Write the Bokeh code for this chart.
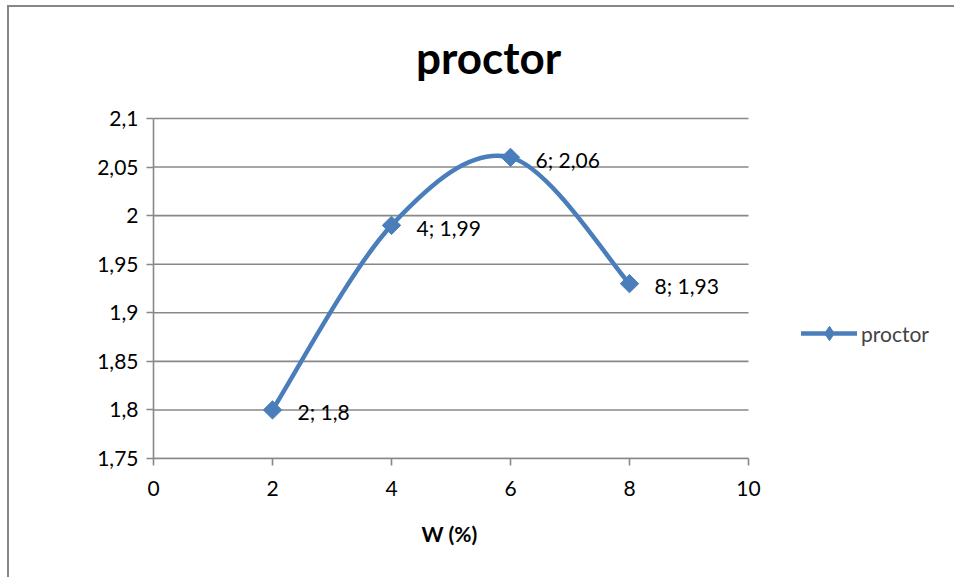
import numpy as np
from bokeh.plotting import figure
from bokeh.models import (Range1d, Legend, LegendItem, FixedTicker, ColumnDataSource,
                          Title, Label)
from bokeh.core.properties import value
from bokeh.embed import file_html
from bokeh.resources import INLINE

# Proctor test: water content (%) vs. dry density
w_pct = [2, 4, 6, 8]
density = [1.8, 1.99, 2.06, 1.93]
series_name = "proctor"
chart_title = "proctor"
x_title = "W (%)"
x_ticks = [0, 2, 4, 6, 8, 10]
y_ticks = [1.75, 1.8, 1.85, 1.9, 1.95, 2.0, 2.05, 2.1]
y_tick_labels = ["1,75", "1,8", "1,85", "1,9", "1,95", "2", "2,05", "2,1"]

FONT = "Lato"
BLUE = "#4a7ebb"
GREY = "#888888"

# page geometry (pixels)
PAGE_W, PAGE_H = 956, 579
OX, OY = 9, 7                     # chart-area border drawn around the canvas
PLOT_L, PLOT_R = 153, 748         # left/right ends of the x axis
PLOT_T, PLOT_B = 118, 458         # top/bottom of the value axis
TITLE_CX, TITLE_CY = 488, 56      # centre of the chart title

# the frame runs on to the right and top edges of the canvas so the legend and
# title can sit in it beside/above the axes
x_lo, x_hi = x_ticks[0], x_ticks[-1]
y_lo, y_hi = y_ticks[0], y_ticks[-1]
px_x = (x_hi - x_lo) / (PLOT_R - PLOT_L)      # data units per pixel
px_y = (y_hi - y_lo) / (PLOT_B - PLOT_T)
x_end = x_lo + px_x * (PAGE_W - PLOT_L)
y_end = y_hi + px_y * (PLOT_T - OY)


def fmt(v):
    s = ("%g" % v)
    return s.replace(".", ",")


point_labels = ["%s; %s" % (fmt(x), fmt(y)) for x, y in zip(w_pct, density)]

p = figure(width=PAGE_W - OX, height=PAGE_H - OY, output_backend="svg",
           toolbar_location=None,
           x_range=Range1d(x_lo, x_end), y_range=Range1d(y_lo, y_end),
           min_border_left=PLOT_L - OX, min_border_right=0,
           min_border_top=0, min_border_bottom=PAGE_H - PLOT_B)
p.outline_line_color = None
p.background_fill_color = "white"
p.border_fill_color = "white"
p.styles = {"border-top": "2px solid #878787", "border-left": "2px solid #878787",
            "margin-top": "5px", "margin-left": "7px"}

# chart title
p.add_layout(Label(x=x_lo + px_x * (TITLE_CX - PLOT_L), y=y_hi + px_y * (PLOT_T - TITLE_CY),
                   text=chart_title, text_font=FONT, text_font_style="bold",
                   text_font_size="44px", text_color="black",
                   text_align="center", text_baseline="middle"))

# axes
for ax in (p.xaxis, p.yaxis):
    ax.axis_line_color = GREY
    ax.axis_line_width = 1.6
    ax.major_tick_line_color = GREY
    ax.major_tick_line_width = 1.6
    ax.major_tick_out = 7
    ax.major_tick_in = 0
    ax.minor_tick_line_color = None
    ax.major_label_text_font = FONT
    ax.major_label_text_font_size = "21px"
    ax.major_label_text_color = "black"

p.xaxis.ticker = FixedTicker(ticks=x_ticks)
p.xaxis.bounds = (x_lo, x_hi)
p.xaxis.major_label_standoff = 15

p.yaxis.ticker = FixedTicker(ticks=y_ticks)
p.yaxis.bounds = (y_lo, y_hi)
p.yaxis.major_label_overrides = {t: l for t, l in zip(y_ticks, y_tick_labels)}
p.yaxis.major_label_standoff = 8

# x-axis title, centred under the axis
p.add_layout(Title(text=x_title, text_font=FONT, text_font_style="bold",
                   text_font_size="21px", text_color="black",
                   align="left", offset=268, standoff=40), "below")

# horizontal gridlines over the x axis extent only
p.grid.visible = False
p.segment(x0=[x_lo] * len(y_ticks), x1=[x_hi] * len(y_ticks), y0=y_ticks, y1=y_ticks,
          line_color=GREY, line_width=1.6)

# smoothed curve through the points (cubic Bezier, Catmull-Rom style control points)
pts = np.column_stack([w_pct, density]).astype(float)
n = len(pts)
seg = {k: [] for k in ("x0", "y0", "x1", "y1", "cx0", "cy0", "cx1", "cy1")}
for i in range(n - 1):
    a = pts[i - 1] if i > 0 else pts[i]
    b = pts[i]
    c = pts[i + 1]
    d = pts[i + 2] if i + 2 < n else pts[i + 1]
    c1 = b + (c - a) / 6.0
    c2 = c - (d - b) / 6.0
    seg["x0"].append(b[0]); seg["y0"].append(b[1])
    seg["x1"].append(c[0]); seg["y1"].append(c[1])
    seg["cx0"].append(c1[0]); seg["cy0"].append(c1[1])
    seg["cx1"].append(c2[0]); seg["cy1"].append(c2[1])
p.bezier(x0="x0", y0="y0", x1="x1", y1="y1", cx0="cx0", cy0="cy0",
         cx1="cx1", cy1="cy1", source=ColumnDataSource(seg),
         line_color=BLUE, line_width=4.5, line_cap="round")

p.scatter(w_pct, density, marker="square", angle=np.pi / 4, size=13,
          fill_color=BLUE, line_color=BLUE)

p.text(x=w_pct, y=density, text=point_labels, x_offset=25, y_offset=2,
       text_baseline="middle", text_align="left", text_font=value(FONT),
       text_font_size="21px", text_color="black")

# legend beside the axes (its glyphs come from two undrawn renderers)
leg_line = p.line(x=[np.nan], y=[np.nan], line_color=BLUE, line_width=4.5,
                  line_cap="round")
leg_mark = p.scatter(x=[np.nan], y=[np.nan], marker="diamond",
                     fill_color=BLUE, line_color=BLUE)
legend = Legend(items=[LegendItem(label=series_name, renderers=[leg_line, leg_mark])],
                location=(648, 107), glyph_width=56, glyph_height=36,
                label_standoff=4, padding=0, margin=0,
                border_line_alpha=0, background_fill_alpha=0,
                label_text_font=FONT, label_text_font_size="21px")
p.add_layout(legend)

open("out.html", "w").write(file_html(p, INLINE))
